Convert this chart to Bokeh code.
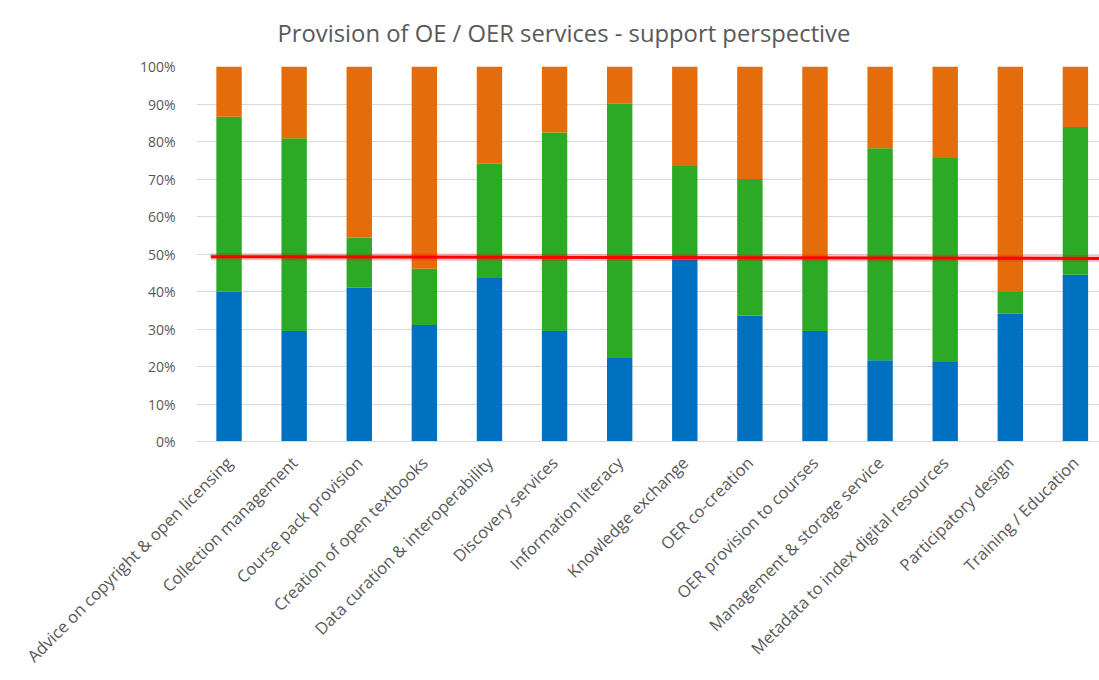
import math
from bokeh.plotting import figure
from bokeh.models import ColumnDataSource, Range1d, PrintfTickFormatter, FixedTicker
from bokeh.embed import file_html
from bokeh.resources import INLINE

categories = [
    "Advice on copyright & open licensing",
    "Collection management",
    "Course pack provision",
    "Creation of open textbooks",
    "Data curation & interoperability",
    "Discovery services",
    "Information literacy",
    "Knowledge exchange",
    "OER co-creation",
    "OER provision to courses",
    "Management & storage service",
    "Metadata to index digital resources",
    "Participatory design",
    "Training / Education",
]
series_blue = [40.0, 29.5, 41.0, 31.1, 43.6, 29.5, 22.3, 48.6, 33.6, 29.5, 21.7, 21.2, 34.1, 44.5]
series_green = [46.6, 51.4, 13.4, 15.0, 30.5, 52.9, 67.8, 24.9, 36.4, 18.9, 56.5, 54.4, 5.8, 39.4]
series_orange = [13.4, 19.1, 45.6, 53.9, 25.9, 17.6, 9.9, 26.5, 30.0, 51.6, 21.8, 24.4, 60.1, 16.1]
y_ticks = [0, 10, 20, 30, 40, 50, 60, 70, 80, 90, 100]
ref_x = [0.72, 14.6]
ref_y = [49.3, 48.8]

xs = list(range(1, len(categories) + 1))
source = ColumnDataSource(dict(x=xs, blue=series_blue, green=series_green, orange=series_orange))

p = figure(width=1099, height=680, output_backend="svg", toolbar_location=None,
           x_range=Range1d(0.5, 14.37), y_range=Range1d(0, 100),
           min_border_left=196, min_border_right=0, min_border_top=66, min_border_bottom=239)
p.outline_line_color = None

p.vbar_stack(["blue", "green", "orange"], x="x", width=0.39, source=source,
             color=["#0070C0", "#2CA925", "#E46C0A"], line_color=None)

p.line(ref_x, ref_y, line_color="#ff0000", line_width=7, line_alpha=0.25)
p.line(ref_x, ref_y, line_color="#ff0000", line_width=3)

# title
p.title.text = "Provision of OE / OER services - support perspective"
p.title.text_font = "Open Sans"
p.title.text_font_size = "23.8px"
p.title.text_font_style = "normal"
p.title.text_color = "#595959"
p.title.align = "left"
p.title.vertical_align = "top"
p.title.offset = 81
p.title.standoff = 32

# y axis
yax = p.yaxis[0]
yax.ticker = FixedTicker(ticks=y_ticks)
yax.formatter = PrintfTickFormatter(format="%d%%")
yax.axis_line_color = None
yax.major_tick_line_color = None
yax.minor_tick_line_color = None
yax.major_label_text_font = "Open Sans"
yax.major_label_text_font_size = "14px"
yax.major_label_text_color = "#595959"
yax.major_label_standoff = 15

# x axis
xax = p.xaxis[0]
xax.ticker = FixedTicker(ticks=xs)
xax.major_label_overrides = {i + 1: c for i, c in enumerate(categories)}
xax.major_label_orientation = math.pi / 4
xax.axis_line_color = "#d9d9d9"
xax.major_tick_line_color = None
xax.minor_tick_line_color = None
xax.major_label_text_font = "Open Sans"
xax.major_label_text_font_size = "16.5px"
xax.major_label_text_color = "#595959"
xax.major_label_standoff = 12

p.xgrid.grid_line_color = None
p.ygrid.grid_line_color = "#d9d9d9"
p.ygrid.ticker = FixedTicker(ticks=y_ticks)

open("out.html", "w").write(file_html(p, INLINE))
